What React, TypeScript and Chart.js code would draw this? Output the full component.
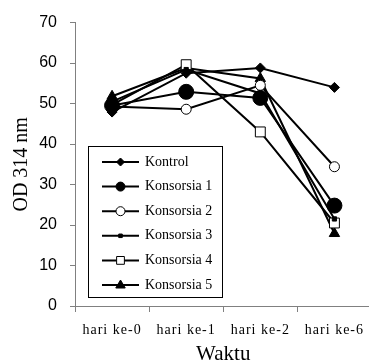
import React, { useEffect, useRef } from "react";
import { Chart, registerables } from "chart.js";
Chart.register(...registerables);

const categories = ["hari ke-0", "hari ke-1", "hari ke-2", "hari ke-6"];
const seriesNames = ["Kontrol", "Konsorsia 1", "Konsorsia 2", "Konsorsia 3", "Konsorsia 4", "Konsorsia 5"];
const kontrol = [47.9, 57.5, 58.8, 54.0];
const konsorsia1 = [49.5, 52.9, 51.4, 24.8];
const konsorsia2 = [49.3, 48.6, 54.5, 34.4];
const konsorsia3 = [50.5, 58.4, 52.5, 21.5];
const konsorsia4 = [49.7, 59.6, 43.0, 20.5];
const konsorsia5 = [51.8, 58.8, 56.2, 17.9];
const yTicks = [0, 10, 20, 30, 40, 50, 60, 70];

const styles = [
  { pointStyle: "rectRot", radius: 5, fill: "#000", legendR: 4 },
  { pointStyle: "circle", radius: 7.5, fill: "#000", legendR: 4.5 },
  { pointStyle: "circle", radius: 5, fill: "#fff", legendR: 4.5 },
  { pointStyle: "rect", radius: 3, fill: "#000", legendR: 2.5 },
  { pointStyle: "rect", radius: 7, fill: "#fff", legendR: 5.5 },
  { pointStyle: "triangle", radius: 6, fill: "#000", legendR: 5 },
];

function drawMarker(ctx: CanvasRenderingContext2D, style: string, r: number, x: number, y: number, fill: string) {
  ctx.beginPath();
  if (style === "circle") {
    ctx.arc(x, y, r, 0, Math.PI * 2);
  } else if (style === "rect") {
    const s = Math.SQRT1_2 * r;
    ctx.rect(x - s, y - s, 2 * s, 2 * s);
  } else if (style === "rectRot") {
    ctx.moveTo(x, y - r);
    ctx.lineTo(x + r, y);
    ctx.lineTo(x, y + r);
    ctx.lineTo(x - r, y);
    ctx.closePath();
  } else if (style === "triangle") {
    ctx.moveTo(x, y - r);
    ctx.lineTo(x + r * 0.95, y + r * 0.6);
    ctx.lineTo(x - r * 0.95, y + r * 0.6);
    ctx.closePath();
  }
  ctx.fillStyle = fill;
  ctx.fill();
  ctx.strokeStyle = "#000";
  ctx.lineWidth = 1;
  ctx.stroke();
}

const legendPlugin = {
  id: "customLegend",
  afterLayout(chart: any) {
    const s = chart.scales.x;
    if (s && !s._spaced) {
      const orig = s.drawLabels.bind(s);
      s.drawLabels = (area: any) => {
        const c = chart.ctx as any;
        const prev = c.letterSpacing;
        c.letterSpacing = "1px";
        orig(area);
        c.letterSpacing = prev || "0px";
      };
      s._spaced = true;
    }
  },
  afterDatasetsDraw(chart: any) {
    const ctx = chart.ctx;
    ctx.save();
    ctx.fillStyle = "#fff";
    ctx.strokeStyle = "#000";
    ctx.lineWidth = 1;
    ctx.fillRect(88.5, 146.5, 134, 151);
    ctx.strokeRect(88.5, 146.5, 134, 151);
    ctx.font = "14px 'Liberation Serif', serif";
    ctx.textBaseline = "middle";
    ctx.textAlign = "left";
    seriesNames.forEach((name, i) => {
      const y = 162 + i * 24.6;
      ctx.strokeStyle = "#000";
      ctx.lineWidth = 2;
      ctx.beginPath();
      ctx.moveTo(102, y);
      ctx.lineTo(139, y);
      ctx.stroke();
      const s = styles[i];
      drawMarker(ctx, s.pointStyle, s.legendR, 120.5, y, s.fill);
      ctx.fillStyle = "#000";
      ctx.fillText(name, 145, y);
    });
    ctx.restore();
  },
};

export default function App() {
  const ref = useRef<HTMLCanvasElement>(null);
  useEffect(() => {
    const values = [kontrol, konsorsia1, konsorsia2, konsorsia3, konsorsia4, konsorsia5];
    const chart = new Chart(ref.current!, {
      type: "line",
      data: {
        labels: categories,
        datasets: values.map((v, i) => ({
          label: seriesNames[i],
          data: v,
          borderColor: "#000",
          borderWidth: 2,
          pointStyle: styles[i].pointStyle as any,
          pointRadius: styles[i].radius,
          pointBackgroundColor: styles[i].fill,
          pointBorderColor: "#000",
          pointBorderWidth: 1,
          tension: 0,
          fill: false,
        })),
      },
      options: {
        animation: false,
        responsive: true,
        maintainAspectRatio: false,
        layout: { padding: { top: 21, right: 3, left: 0, bottom: 0 } },
        plugins: { legend: { display: false }, tooltip: { enabled: false } },
        scales: {
          x: {
            offset: true,
            afterFit: (s: any) => {
              s.height = 74;
            },
            grid: { offset: true, drawOnChartArea: false, drawTicks: true, tickLength: 6, color: "#808080" },
            border: { color: "#808080", width: 1 },
            ticks: { color: "#000", padding: 10, font: { family: "'Liberation Serif', serif", size: 14 } },
            title: {
              display: true,
              text: "Waktu",
              color: "#000",
              padding: { top: 0, bottom: 13 },
              font: { family: "'Liberation Serif', serif", size: 21 },
            },
          },
          y: {
            min: 0,
            max: 70,
            afterFit: (s: any) => {
              s.width = 75;
            },
            afterBuildTicks: (s: any) => {
              s.ticks = yTicks.map((v) => ({ value: v }));
            },
            grid: { drawOnChartArea: false, drawTicks: true, tickLength: 5, color: "#808080" },
            border: { color: "#808080", width: 1 },
            ticks: { color: "#000", padding: 13, font: { family: "'Liberation Sans', Arial, sans-serif", size: 16 } },
            title: {
              display: true,
              text: "OD 314 nm",
              color: "#000",
              padding: { top: 10, bottom: 0 },
              font: { family: "'Liberation Serif', serif", size: 20 },
            },
          },
        },
      },
      plugins: [legendPlugin],
    });
    return () => chart.destroy();
  }, []);
  return (
    <div style={{ position: "fixed", left: 0, top: 0, width: 369, height: 362, overflow: "hidden", background: "#fff" }}>
      <div style={{ position: "relative", width: 380, height: 380 }}>
        <canvas ref={ref} />
      </div>
    </div>
  );
}
